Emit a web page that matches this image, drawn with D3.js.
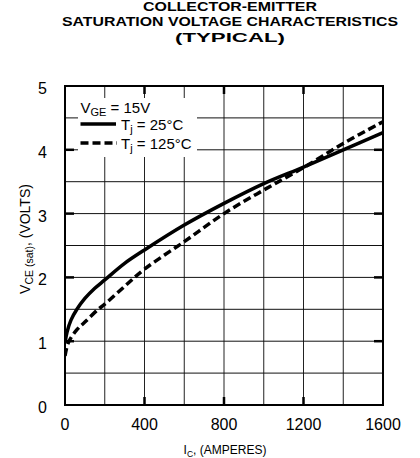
<!DOCTYPE html>
<html>
<head>
<meta charset="utf-8">
<script src="https://cdn.jsdelivr.net/npm/d3@7"></script>
<style>
html,body{margin:0;padding:0;background:#fff;}
svg{display:block;font-family:"Liberation Sans",Arial,Helvetica,sans-serif;}
</style>
</head>
<body>
<svg id="c" width="420" height="458"></svg>
<script>
// ---- data ----
const titleLines = ["COLLECTOR-EMITTER", "SATURATION VOLTAGE CHARACTERISTICS", "(TYPICAL)"];
const xTicks = [0, 400, 800, 1200, 1600];
const yTicks = [0, 1, 2, 3, 4, 5];
const xGrid = [0, 200, 400, 600, 800, 1000, 1200, 1400, 1600];
const yGrid = [0, 0.5, 1, 1.5, 2, 2.5, 3, 3.5, 4, 4.5, 5];
// Tj = 25°C
const ic25 = [0, 10, 30, 60, 100, 150, 200, 300, 400, 600, 800, 1000, 1200, 1400, 1600];
const v25  = [0.97, 1.14, 1.33, 1.5, 1.67, 1.83, 1.96, 2.22, 2.43, 2.82, 3.16, 3.47, 3.73, 4.0, 4.27];
// Tj = 125°C
const ic125 = [0, 17, 60, 100, 167, 200, 300, 400, 600, 800, 1000, 1200, 1400, 1600];
const v125  = [0.77, 0.98, 1.18, 1.3, 1.5, 1.58, 1.86, 2.13, 2.56, 3.0, 3.37, 3.72, 4.1, 4.44];

// ---- layout ----
const L = 65, R = 383, T = 86, B = 405;
const svg = d3.select("#c");
const x = d3.scaleLinear().domain([0, 1600]).range([L, R]);
const y = d3.scaleLinear().domain([0, 5]).range([B, T]);

// title
const tW = [174, 336, 110], tY = [10.5, 26, 41.5];
titleLines.forEach((t, i) => {
  svg.append("text").attr("x", 230).attr("y", tY[i]).attr("text-anchor", "middle")
    .attr("font-size", 12.5).attr("font-weight", "bold")
    .attr("textLength", tW[i]).attr("lengthAdjust", "spacingAndGlyphs").text(t);
});

// grid
const g = svg.append("g");
g.selectAll(".vg").data(xGrid).enter().append("line")
  .attr("x1", d => x(d)).attr("x2", d => x(d)).attr("y1", T).attr("y2", B)
  .attr("stroke", "#222").attr("stroke-width", 1);
g.selectAll(".hg").data(yGrid).enter().append("line")
  .attr("x1", L).attr("x2", R).attr("y1", d => y(d)).attr("y2", d => y(d))
  .attr("stroke", "#111").attr("stroke-width", 1);

// major inner ticks
xTicks.filter(d => d > 0 && d < 1600).forEach(d => {
  g.append("line").attr("x1", x(d)).attr("x2", x(d)).attr("y1", B).attr("y2", B - 8).attr("stroke", "#000").attr("stroke-width", 2.5);
  g.append("line").attr("x1", x(d)).attr("x2", x(d)).attr("y1", T).attr("y2", T + 8).attr("stroke", "#000").attr("stroke-width", 2.5);
});
yTicks.filter(d => d > 0 && d < 5).forEach(d => {
  g.append("line").attr("x1", L).attr("x2", L + 9).attr("y1", y(d)).attr("y2", y(d)).attr("stroke", "#000").attr("stroke-width", 2.5);
  g.append("line").attr("x1", R).attr("x2", R - 9).attr("y1", y(d)).attr("y2", y(d)).attr("stroke", "#000").attr("stroke-width", 2.5);
});

// frame
svg.append("rect").attr("x", L).attr("y", T).attr("width", R - L).attr("height", B - T)
  .attr("fill", "none").attr("stroke", "#000").attr("stroke-width", 2);

// tick labels
svg.selectAll(".xl").data(xTicks).enter().append("text")
  .attr("x", d => x(d)).attr("y", 430).attr("text-anchor", "middle")
  .attr("font-size", 16).text(d => d);
svg.selectAll(".yl").data(yTicks).enter().append("text")
  .attr("x", 47).attr("y", d => y(d) + 8).attr("text-anchor", "end")
  .attr("font-size", 16).text(d => d);

// axis titles
const xt = svg.append("text").attr("x", 225).attr("y", 454).attr("text-anchor", "middle").attr("font-size", 12);
xt.append("tspan").text("I");
xt.append("tspan").attr("font-size", 8.5).attr("dy", 3).text("C");
xt.append("tspan").attr("dy", -3).text(", (AMPERES)");

const yt = svg.append("text").attr("transform", "translate(30,239) rotate(-90)")
  .attr("text-anchor", "middle").attr("font-size", 14);
yt.append("tspan").text("V");
yt.append("tspan").attr("font-size", 10.5).attr("dy", 3).text("CE (sat)");
yt.append("tspan").attr("dy", -3).text(", (VOLTS)");

// curves
const line = d3.line().x(d => x(d[0])).y(d => y(d[1])).curve(d3.curveCatmullRom.alpha(0.5));
const clip = svg.append("clipPath").attr("id", "pc");
clip.append("rect").attr("x", L).attr("y", T).attr("width", R - L).attr("height", B - T);
svg.append("path").datum(d3.zip(ic25, v25)).attr("d", line)
  .attr("fill", "none").attr("stroke", "#000").attr("stroke-width", 3.5).attr("clip-path", "url(#pc)");
svg.append("path").datum(d3.zip(ic125, v125)).attr("d", line)
  .attr("fill", "none").attr("stroke", "#000").attr("stroke-width", 3.5)
  .attr("stroke-dasharray", "8,4").attr("clip-path", "url(#pc)");

// legend
svg.append("rect").attr("x", 78).attr("y", 98).attr("width", 119).attr("height", 59).attr("fill", "#fff");
const l1 = svg.append("text").attr("x", 80.5).attr("y", 113).attr("font-size", 15);
l1.append("tspan").text("V");
l1.append("tspan").attr("font-size", 11).attr("dy", 3).text("GE");
l1.append("tspan").attr("dy", -3).text(" = 15V");
svg.append("line").attr("x1", 80.5).attr("x2", 116).attr("y1", 124).attr("y2", 124)
  .attr("stroke", "#000").attr("stroke-width", 3.5);
svg.append("line").attr("x1", 80.5).attr("x2", 117).attr("y1", 143).attr("y2", 143)
  .attr("stroke", "#000").attr("stroke-width", 3.5).attr("stroke-dasharray", "8,4");
[["25°C", 129.5], ["125°C", 148.5]].forEach(([t, yy]) => {
  const tx = svg.append("text").attr("x", 121).attr("y", yy).attr("font-size", 15);
  tx.append("tspan").text("T");
  tx.append("tspan").attr("font-size", 11).attr("dy", 3).text("j");
  tx.append("tspan").attr("dy", -3).text(" = " + t);
});
</script>
</body>
</html>
